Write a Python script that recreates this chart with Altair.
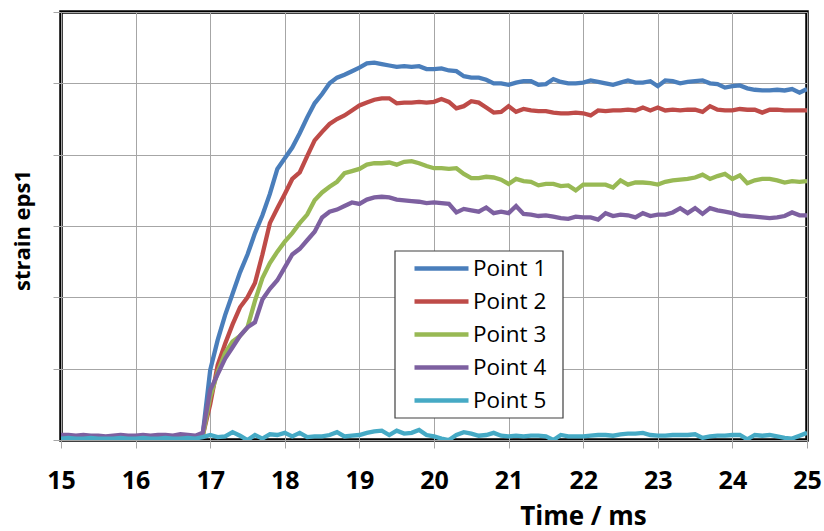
import altair as alt
import pandas as pd

# time axis (ms), 0.1 ms steps
time = [round(15 + 0.1 * i, 1) for i in range(101)]

# strain values in units of one grid division
p1 = [0.03, 0.04, 0.03, 0.04, 0.03, 0.03, 0.04, 0.03, 0.04, 0.04, 0.03, 0.04, 0.05, 0.04, 0.03, 0.04, 0.05, 0.04, 0.05,
      0.08, 0.98, 1.40, 1.75, 2.05, 2.35, 2.60, 2.90, 3.15, 3.45, 3.80,
      3.95, 4.10, 4.30, 4.52, 4.72, 4.85, 5.00, 5.08, 5.12, 5.17,
      5.22, 5.28, 5.29, 5.27, 5.25, 5.23, 5.24, 5.23, 5.24, 5.20,
      5.20, 5.21, 5.18, 5.17, 5.10, 5.08, 5.08, 5.05, 5.00, 5.00,
      4.98, 5.01, 5.03, 5.03, 4.98, 4.99, 5.06, 5.02, 5.00, 5.00,
      5.01, 5.04, 5.02, 5.00, 4.98, 5.01, 5.04, 5.01, 5.01, 5.03,
      4.96, 5.04, 5.03, 5.00, 5.02, 5.03, 5.04, 5.00, 4.99, 4.94,
      4.96, 4.97, 4.93, 4.91, 4.90, 4.90, 4.91, 4.90, 4.92, 4.87, 4.92]
p2 = [0.04, 0.05, 0.04, 0.04, 0.05, 0.04, 0.04, 0.05, 0.04, 0.05, 0.04, 0.05, 0.04, 0.05, 0.05, 0.04, 0.05, 0.05, 0.04,
      0.06, 0.50, 1.05, 1.35, 1.62, 1.86, 2.00, 2.20, 2.60, 3.04, 3.25,
      3.45, 3.66, 3.75, 3.98, 4.20, 4.32, 4.43, 4.50, 4.55, 4.62,
      4.69, 4.73, 4.77, 4.79, 4.79, 4.72, 4.73, 4.73, 4.74, 4.73,
      4.74, 4.78, 4.74, 4.65, 4.68, 4.75, 4.73, 4.66, 4.59, 4.60,
      4.68, 4.60, 4.64, 4.62, 4.61, 4.61, 4.59, 4.58, 4.58, 4.59,
      4.58, 4.55, 4.62, 4.61, 4.62, 4.62, 4.63, 4.62, 4.66, 4.62,
      4.66, 4.62, 4.63, 4.62, 4.63, 4.63, 4.60, 4.68, 4.63, 4.62,
      4.62, 4.64, 4.63, 4.63, 4.59, 4.63, 4.63, 4.62, 4.62, 4.62, 4.62]
p3 = [0.02, 0.03, 0.02, 0.02, 0.03, 0.02, 0.02, 0.03, 0.02, 0.03, 0.02, 0.02, 0.03, 0.02, 0.03, 0.02, 0.03, 0.02, 0.03,
      0.05, 0.60, 0.95, 1.22, 1.38, 1.46, 1.58, 1.95, 2.27, 2.48, 2.64,
      2.78, 2.90, 3.04, 3.16, 3.36, 3.47, 3.55, 3.62, 3.74, 3.77,
      3.80, 3.86, 3.88, 3.88, 3.89, 3.86, 3.90, 3.91, 3.88, 3.84,
      3.81, 3.81, 3.80, 3.81, 3.73, 3.67, 3.67, 3.69, 3.68, 3.65,
      3.59, 3.66, 3.63, 3.62, 3.57, 3.59, 3.59, 3.56, 3.57, 3.50,
      3.58, 3.58, 3.58, 3.58, 3.54, 3.64, 3.58, 3.61, 3.61, 3.60,
      3.58, 3.62, 3.64, 3.65, 3.66, 3.68, 3.72, 3.66, 3.70, 3.73,
      3.66, 3.71, 3.60, 3.64, 3.66, 3.66, 3.64, 3.61, 3.63, 3.62, 3.63]
p4 = [0.07, 0.07, 0.06, 0.07, 0.06, 0.06, 0.05, 0.06, 0.07, 0.06, 0.06, 0.07, 0.06, 0.07, 0.07, 0.06, 0.08, 0.07, 0.06,
      0.10, 0.70, 0.92, 1.14, 1.30, 1.46, 1.58, 1.65, 1.97, 2.12, 2.24,
      2.42, 2.60, 2.68, 2.80, 2.92, 3.12, 3.20, 3.23, 3.28, 3.33,
      3.31, 3.37, 3.40, 3.41, 3.40, 3.37, 3.36, 3.35, 3.34, 3.32,
      3.33, 3.32, 3.31, 3.19, 3.24, 3.22, 3.20, 3.26, 3.18, 3.20,
      3.18, 3.28, 3.17, 3.16, 3.14, 3.15, 3.13, 3.11, 3.10, 3.13,
      3.12, 3.12, 3.09, 3.18, 3.14, 3.16, 3.15, 3.12, 3.18, 3.14,
      3.16, 3.16, 3.19, 3.25, 3.18, 3.25, 3.17, 3.25, 3.22, 3.20,
      3.18, 3.15, 3.14, 3.13, 3.12, 3.11, 3.12, 3.14, 3.19, 3.15, 3.15]
p5 = [0.02, 0.03, 0.02, 0.02, 0.03, 0.02, 0.02, 0.02, 0.03, 0.02, 0.02, 0.03, 0.02, 0.02, 0.03, 0.02, 0.02, 0.03, 0.02,
      0.04, 0.07, 0.04, 0.05, 0.11, 0.06, 0.00, 0.07, 0.02, 0.08, 0.07,
      0.10, 0.05, 0.10, 0.04, 0.05, 0.05, 0.07, 0.11, 0.05, 0.06,
      0.07, 0.10, 0.12, 0.13, 0.07, 0.13, 0.09, 0.10, 0.14, 0.07,
      0.05, 0.02, 0.00, 0.07, 0.11, 0.09, 0.06, 0.07, 0.10, 0.06,
      0.05, 0.06, 0.05, 0.06, 0.06, 0.05, 0.00, 0.07, 0.05, 0.05,
      0.05, 0.06, 0.07, 0.07, 0.06, 0.08, 0.09, 0.09, 0.10, 0.07,
      0.06, 0.06, 0.07, 0.07, 0.07, 0.08, 0.03, 0.05, 0.06, 0.06,
      0.07, 0.07, 0.01, 0.07, 0.06, 0.07, 0.05, 0.03, 0.02, 0.06, 0.10]

series_names = ["Point 1", "Point 2", "Point 3", "Point 4", "Point 5"]
series_colors = ["#4A7EBB", "#BE4B48", "#98B954", "#7D60A0", "#46AAC5"]
x_ticks = list(range(15, 26))
y_ticks = [0, 1, 2, 3, 4, 5, 6]

rows = []
for name, vals in zip(series_names, [p1, p2, p3, p4, p5]):
    for t, v in zip(time, vals):
        rows.append({"time": t, "strain": v, "series": name})
df = pd.DataFrame(rows)

lines = alt.Chart(df).mark_line(strokeWidth=4.3, clip=True).encode(
    x=alt.X("time:Q", scale=alt.Scale(domain=[15, 25], nice=False),
            axis=alt.Axis(values=x_ticks, title="Time / ms", format="d", labelFlush=False,
                          titleFontSize=26,
                          titleX=522, titleY=84, titleBaseline="alphabetic", titleAlign="center")),
    y=alt.Y("strain:Q", scale=alt.Scale(domain=[0, 6], nice=False),
            axis=alt.Axis(values=y_ticks, labels=False, title="strain eps1", titleFontSize=22,
                          titleX=-39, titleY=218, titleAngle=-90, titleBaseline="middle",
                          titleAlign="center")),
    color=alt.Color("series:N", scale=alt.Scale(domain=series_names, range=series_colors),
                    legend=alt.Legend(title=None, orient="none", legendX=351, legendY=240,
                                      symbolType="stroke", symbolSize=2916, symbolStrokeWidth=4.3,
                                      clipHeight=33, rowPadding=0, padding=0, labelOffset=2,
                                      labelFont="Open Sans", labelFontSize=22.5, labelColor="#000000")),
)

legend_box = alt.Chart(alt.Data(values=[{}])).mark_rect(
    fill="white", stroke="#404040", strokeWidth=1.2
).encode(x=alt.value(334), x2=alt.value(502), y=alt.value(239), y2=alt.value(406))

chart = alt.layer(lines, legend_box).properties(
    width=746, height=428,
    autosize=alt.AutoSizeParams(type="none"),
    padding={"left": 61, "top": 12, "right": 17, "bottom": 91},
).configure_view(
    stroke="#000000", strokeWidth=3.5
).configure_axis(
    grid=True, gridColor="#A6A6A6", gridWidth=1,
    domain=False, ticks=True, tickColor="#A6A6A6", tickSize=8, tickWidth=1,
    labelFont="Open Sans", labelFontSize=25, labelFontWeight="bold", labelColor="#000000",
    labelPadding=20,
    titleFont="Open Sans", titleFontWeight="bold", titleColor="#000000",
)

chart.save("out.html", embed_options={"renderer": "svg", "actions": False})
